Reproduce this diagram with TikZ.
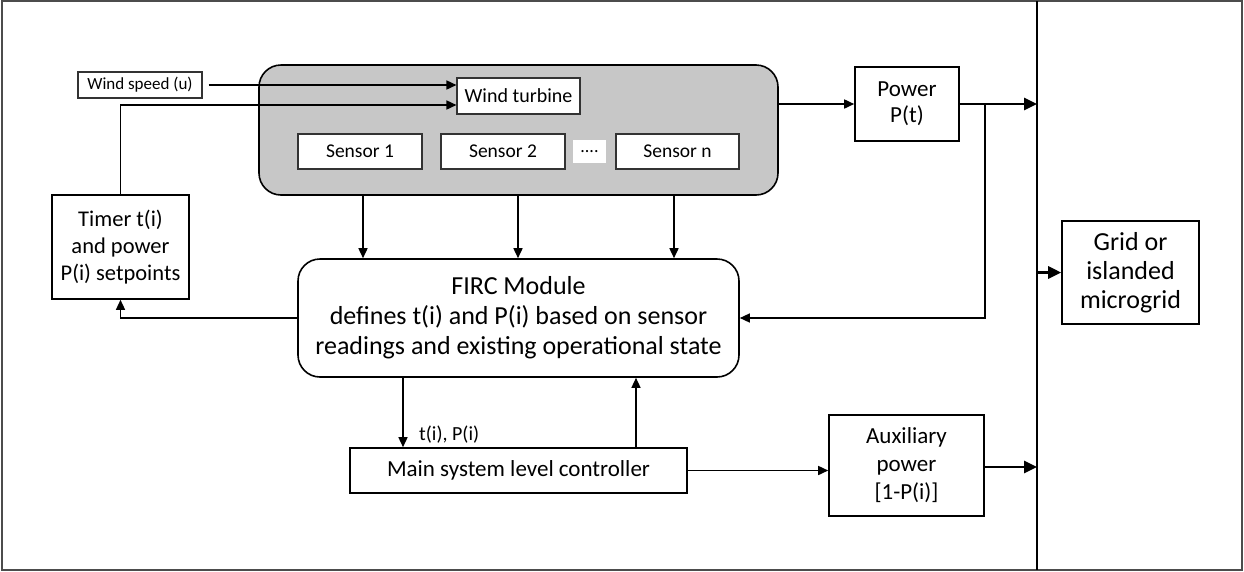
\documentclass[tikz,border=0pt]{standalone}
\usepackage{fontspec}
\setmainfont{Carlito}
\usetikzlibrary{arrows.meta,calc}
\begin{document}
\begin{tikzpicture}[x=1pt,y=-1pt,
  box/.style={draw=black,line width=1.6pt,fill=white,inner sep=0pt,align=center,font=\fontsize{22.5}{27}\selectfont},
  sbox/.style={draw=black!80,line width=1.1pt,fill=white,inner sep=0pt,align=center},
  conn/.style={line width=1.6pt,-{Triangle[length=10pt,width=9pt]}},
  thickconn/.style={line width=2.8pt,-{Triangle[length=13pt,width=12pt]}},
  plain/.style={line width=1.4pt}]
\useasboundingbox (0,0) rectangle (1244,571);
\draw[black!70,line width=1.6pt] (2,1) rectangle (1242,570);
\draw[line width=2.6pt] (1037,1) coordinate (dtop) -- (1037,570) coordinate (dbot);
% gray container
\node[draw=black,line width=1.6pt,fill=black!22,rounded corners=22pt,minimum width=519pt,minimum height=130pt,inner sep=0pt] (gray) at (518.5,130) {};
\node[sbox,font=\fontsize{20}{24}\selectfont,minimum width=123pt,minimum height=36pt] (wt) at (518.5,96) {Wind turbine};
\node[sbox,font=\fontsize{19.5}{24}\selectfont,minimum width=124pt,minimum height=35pt] (s1) at (360,151.5) {Sensor 1};
\node[sbox,font=\fontsize{19.5}{24}\selectfont,minimum width=124pt,minimum height=35pt] (s2) at (503,151.5) {Sensor 2};
\node[fill=white,inner sep=0pt,minimum width=33pt,minimum height=23pt,font=\fontsize{18}{20}\selectfont] (dots) at (589.5,151.5) {....};
\node[sbox,font=\fontsize{19.5}{24}\selectfont,minimum width=123pt,minimum height=35pt] (sn) at (677.5,151.5) {Sensor n};
\node[sbox,font=\fontsize{17}{20}\selectfont,minimum width=124pt,minimum height=26pt] (ws) at (140,85) {Wind speed (u)};
% other boxes
\node[box,font=\fontsize{23}{26}\selectfont,minimum width=104pt,minimum height=74pt] (power) at (907,104) {Power\\P(t)};
\node[box,minimum width=137pt,minimum height=103pt,font=\fontsize{26}{29}\selectfont] (grid) at (1130.5,272.5) {Grid or\\islanded\\microgrid};
\node[box,font=\fontsize{23}{28}\selectfont,minimum width=155pt,minimum height=101pt] (aux) at (906.5,465.5) {Auxiliary\\power\\{[1-P(i)]}};
\node[box,minimum width=137pt,minimum height=104pt] (timer) at (120.5,247) {Timer t(i)\\and power\\P(i) setpoints};
\node[box,rounded corners=22pt,minimum width=441pt,minimum height=118pt,font=\fontsize{26}{30}\selectfont] (firc) at (518.5,318) {FIRC Module\\defines t(i) and P(i) based on sensor\\readings and existing operational state};
\node[box,font=\fontsize{23}{27}\selectfont,minimum width=337pt,minimum height=45pt] (main) at (518.5,470.5) {Main system level controller};
% inputs to wind turbine
\draw[conn] ($(ws.east)+(6,0)$) -- (wt.west |- ws.east);
\coordinate (tin) at (wt.west |- 0,105);
\draw[conn] (timer.north) |- (tin);
% gray to power
\draw[conn] (gray.east |- power.west) -- (power.west);
% power to divider
\draw[thickconn] (power.east) -- (power.east -| dtop);
\coordinate (br) at (985,104);
\draw[plain,-{Triangle[length=10pt,width=9pt]}] (br) |- (firc.east);
% sensors to firc
\coordinate (c1) at (363,195);
\coordinate (c2) at (518,195);
\coordinate (c3) at (674,195);
\draw[conn] (c1) -- (c1 |- firc.north);
\draw[conn] (c2) -- (c2 |- firc.north);
\draw[conn] (c3) -- (c3 |- firc.north);
% firc to timer
\draw[plain,-{Triangle[length=10pt,width=9pt]}] (firc.west) -| (timer.south);
% firc <-> main
\coordinate (d1) at (403,377);
\coordinate (u1) at (636,448);
\draw[plain,-{Triangle[length=10pt,width=9pt]}] (d1) -- (d1 |- main.north);
\draw[plain,-{Triangle[length=10pt,width=9pt]}] (u1) -- (u1 |- firc.south);
\node[anchor=west,inner sep=0pt,font=\fontsize{20}{22}\selectfont] (lbl) at (419,435) {t(i), P(i)};
% main to aux, aux to divider
\draw[conn] (main.east) -- (aux.west |- main.east);
\draw[thickconn] (aux.east |- 0,467) -- (dtop |- 0,467);
% divider to grid
\draw[thickconn] (dtop |- grid.west) -- (grid.west);
\end{tikzpicture}
\end{document}
